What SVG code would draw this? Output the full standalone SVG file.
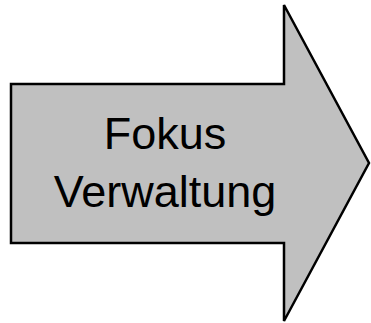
<svg xmlns="http://www.w3.org/2000/svg" width="371" height="323" viewBox="0 0 371 323">
<style>
.shape{fill:#c0c0c0;stroke:#000;stroke-width:2.5;stroke-linejoin:miter}
.lbl{font-family:"Liberation Sans",Arial,sans-serif;font-size:45px;fill:#000;text-anchor:middle}
</style>
<rect width="371" height="323" fill="#fff"/>
<g id="arrow">
<polygon class="shape" points="11,84 284,84 284,5 369,163 284,321 284,243 11,243"/>
<text class="lbl" x="165" y="149">Fokus</text>
<text class="lbl" x="165" y="206.5">Verwaltung</text>
</g>
<g id="connectors"></g>
</svg>
